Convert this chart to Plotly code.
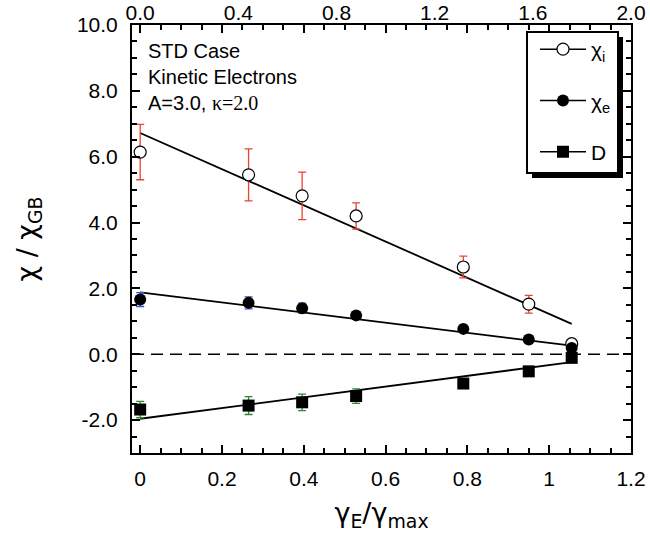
import plotly.graph_objects as go

# ---- data ----
x_vals = [0.0, 0.265, 0.396, 0.528, 0.790, 0.950, 1.055]

chi_i = [6.14, 5.45, 4.81, 4.20, 2.65, 1.52, 0.32]
chi_i_err = [0.84, 0.79, 0.72, 0.40, 0.33, 0.27, 0.0]

chi_e = [1.66, 1.56, 1.40, 1.18, 0.77, 0.45, 0.19]
chi_e_err = [0.21, 0.18, 0.15, 0.08, 0.06, 0.05, 0.0]

d_vals = [-1.68, -1.56, -1.46, -1.27, -0.89, -0.52, -0.11]
d_err = [0.25, 0.27, 0.25, 0.22, 0.08, 0.06, 0.0]

# linear fit lines (end points)
fit_x = [0.0, 1.055]
fit_chi_i = [6.72, 0.92]
fit_chi_e = [1.88, 0.26]
fit_d = [-1.96, -0.24]

series_names = ["χ<sub>i</sub>", "χ<sub>e</sub>", "D"]
x_ticks_top = [0.0, 0.4, 0.8, 1.2, 1.6, 2.0]
y_ticks = [-2, 0, 2, 4, 6, 8, 10]
y_ticktext = ["-2.0", "0.0", "2.0", "4.0", "6.0", "8.0", "10.0"]

X_RANGE = [-0.02, 1.2]
Y_RANGE = [-3, 10]
TOP_SCALE = 2.0 / 1.2

TICK_FONT = dict(family="Liberation Sans, Arial, sans-serif", size=21, color="black")
TITLE_FONT = dict(family="DejaVu Sans, sans-serif", size=27, color="black")

markers = [
    dict(symbol="circle", size=12, color="white", line=dict(color="black", width=1.2)),
    dict(symbol="circle", size=12, color="black", line=dict(color="black", width=0)),
    dict(symbol="square", size=12, color="black", line=dict(color="black", width=0)),
]
err_colors = ["#e8452c", "#2f52d6", "#2a8a3a"]

fig = go.Figure()

# fit lines
for fy in (fit_chi_i, fit_chi_e, fit_d):
    fig.add_trace(go.Scatter(x=fit_x, y=fy, mode="lines",
                             line=dict(color="black", width=1.8),
                             showlegend=False, hoverinfo="skip"))

# data points with error bars
for ys, errs, mk, ec in zip((chi_i, chi_e, d_vals), (chi_i_err, chi_e_err, d_err), markers, err_colors):
    fig.add_trace(go.Scatter(
        x=x_vals, y=ys, mode="markers", marker=mk, showlegend=False,
        error_y=dict(type="data", array=errs, color=ec, thickness=1.3, width=4),
    ))

# legend entries (line + symbol, as in the reference legend)
for i, (nm, mk) in enumerate(zip(series_names, markers)):
    fig.add_trace(go.Scatter(
        x=[None], y=[None], mode="lines+markers", name=nm, legendgroup=f"g{i}",
        marker=mk, line=dict(color="black", width=1.5),
    ))

# invisible trace to activate top axis
fig.add_trace(go.Scatter(x=[X_RANGE[0] * TOP_SCALE, X_RANGE[1] * TOP_SCALE], y=[0, 0],
                         xaxis="x2", mode="markers", marker=dict(opacity=0),
                         showlegend=False, hoverinfo="skip"))

L, R, T, B = 132, 19, 25, 90
W, H = 650, 543
pw, ph = W - L - R, H - T - B

def px_x(p):
    return (p - L) / pw

def px_y(p):
    return (H - B - p) / ph

shapes = [
    dict(type="line", xref="x domain", yref="y", x0=0, x1=1, y0=0, y1=0,
         line=dict(color="black", width=1.3, dash="12px,7px"), layer="below"),
    dict(type="rect", xref="paper", yref="paper",
         x0=px_x(532), x1=px_x(623), y0=px_y(178), y1=px_y(37),
         fillcolor="black", line=dict(width=0), layer="above"),
    dict(type="rect", xref="paper", yref="paper",
         x0=px_x(527), x1=px_x(618), y0=px_y(173), y1=px_y(32),
         fillcolor="white", line=dict(color="black", width=2), layer="above"),
]

fig.update_layout(
    width=W, height=H,
    margin=dict(l=L, r=R, t=T, b=B, pad=0),
    paper_bgcolor="white", plot_bgcolor="white",
    showlegend=True,
    legend=dict(
        x=px_x(535), y=px_y(29), xanchor="left", yanchor="top",
        bgcolor="rgba(0,0,0,0)", borderwidth=0,
        font=dict(family="Liberation Sans, Arial, sans-serif", size=21, color="black"),
        tracegroupgap=21, itemwidth=46,
    ),
    xaxis=dict(
        range=X_RANGE, showgrid=False, zeroline=False, automargin=False,
        showline=True, linecolor="black", linewidth=2, mirror="ticks",
        ticks="inside", ticklen=8, tickwidth=1.5, tickcolor="black",
        dtick=0.2, tick0=0, tickfont=TICK_FONT, ticklabelstandoff=6,
        minor=dict(ticks="inside", ticklen=5, tickwidth=1.5, tickcolor="black", dtick=0.05, tick0=0),
        title=dict(text="γ<sub>E</sub>/γ<sub>max</sub>", font=TITLE_FONT, standoff=14),
    ),
    xaxis2=dict(
        overlaying="x", side="top", anchor="y", automargin=False,
        range=[X_RANGE[0] * TOP_SCALE, X_RANGE[1] * TOP_SCALE],
        showgrid=False, zeroline=False, showline=False, ticks="",
        tickmode="array", tickvals=x_ticks_top, ticktext=[f"{v:.1f}" for v in x_ticks_top],
        tickfont=TICK_FONT, ticklabelstandoff=0,
    ),
    yaxis=dict(
        range=Y_RANGE, showgrid=False, zeroline=False, automargin=False,
        showline=True, linecolor="black", linewidth=2, mirror="ticks",
        ticks="inside", ticklen=8, tickwidth=1.5, tickcolor="black",
        tickmode="array", tickvals=y_ticks, ticktext=y_ticktext,
        tickfont=TICK_FONT, ticklabelstandoff=8,
        minor=dict(ticks="inside", ticklen=5, tickwidth=1.5, tickcolor="black", dtick=0.5, tick0=0),
        title=dict(text="χ / χ<sub>GB</sub>", font=TITLE_FONT, standoff=32),
    ),
    shapes=shapes,
    annotations=[
        dict(xref="paper", yref="paper", x=px_x(146), y=px_y(38), xanchor="left", yanchor="top",
             align="left", showarrow=False,
             font=dict(family="Liberation Sans, Arial, sans-serif", size=20, color="black"),
             text="STD Case<br>Kinetic Electrons<br>A=3.0, <span style='font-family:Liberation Serif, Times New Roman, serif'>κ=2.0</span>"),
    ],
)

fig.write_html("out.html")
